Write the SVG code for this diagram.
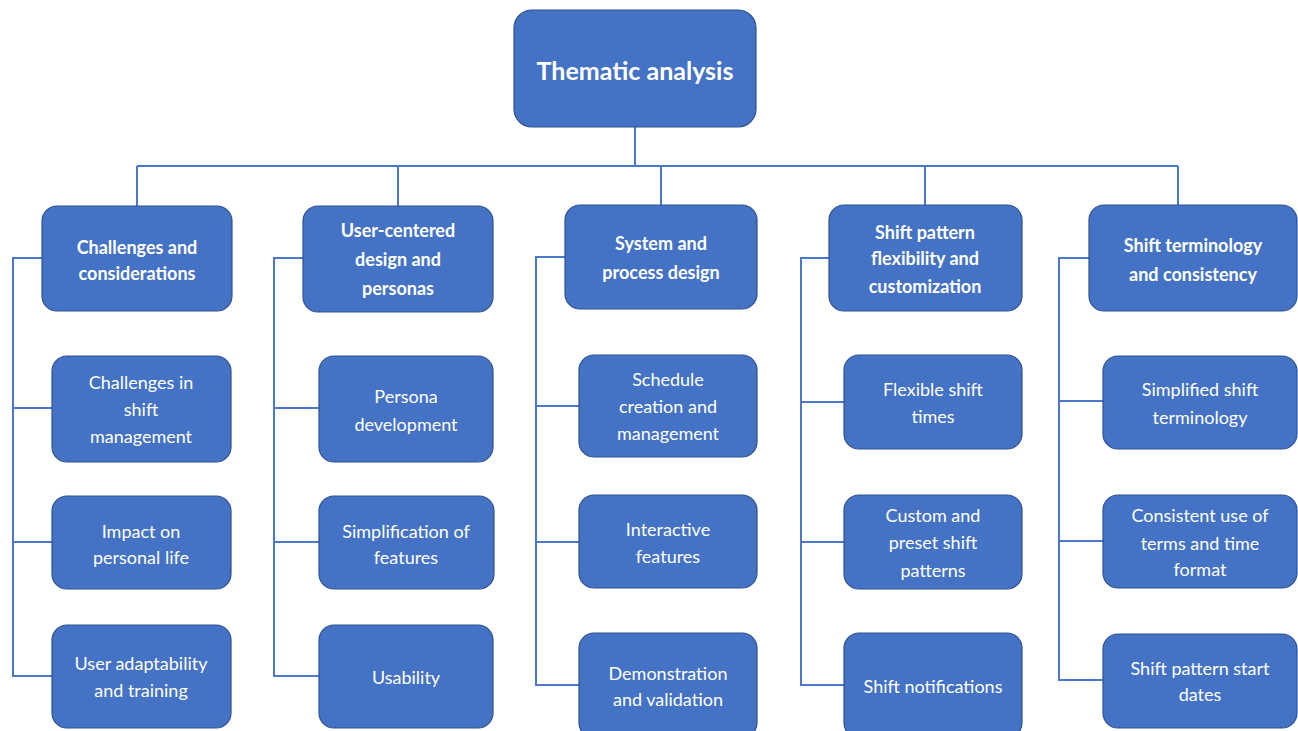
<svg xmlns="http://www.w3.org/2000/svg" width="1298" height="731" viewBox="0 0 1298 731">
<style>
.box{fill:#4472C4;stroke:#2F528F;stroke-width:1.2}
.t{fill:#FFFFFF;font-family:Lato,"Open Sans","Liberation Sans",sans-serif;font-size:18px;text-anchor:middle;dominant-baseline:central}
.b{font-weight:bold}
.r{font-size:25px}
.c{fill:none;stroke:#4A78CC;stroke-width:2}
</style>
<rect width="1298" height="731" fill="#FFFFFF"/>
<g id="connectors" class="c">
<path d="M635 127V166M137 166H1178M137 166V206M398 166V206M661 166V205M925 166V205M1178 166V205"/>
<path d="M42 258H13V676H52M13 408H52M13 542H52"/>
<path d="M303 258H274V676H319M274 408H319M274 542H319"/>
<path d="M565 257H536V685H579M536 406H579M536 542H579"/>
<path d="M829 258H801V685H844M801 402H844M801 542H844"/>
<path d="M1089 258H1059V680H1103M1059 401H1103M1059 541H1103"/>
</g>
<g id="root"><rect class="box" x="514" y="10" width="242" height="117" rx="18"/><text class="t b r" x="635" y="70">Thematic analysis</text></g>
<g id="n1"><rect class="box" x="42" y="206" width="190" height="105" rx="15"/><text class="t b" x="137"><tspan x="137" y="247">Challenges and</tspan><tspan x="137" y="273">considerations</tspan></text></g>
<g id="n2"><rect class="box" x="303" y="206" width="190" height="106" rx="15"/><text class="t b" x="398"><tspan x="398" y="230">User-centered</tspan><tspan x="398" y="259">design and</tspan><tspan x="398" y="288">personas</tspan></text></g>
<g id="n3"><rect class="box" x="565" y="205" width="192" height="104" rx="15"/><text class="t b" x="661"><tspan x="661" y="243">System and</tspan><tspan x="661" y="272">process design</tspan></text></g>
<g id="n4"><rect class="box" x="829" y="205" width="193" height="106" rx="15"/><text class="t b" x="925"><tspan x="925" y="232">Shift pattern</tspan><tspan x="925" y="258">flexibility and</tspan><tspan x="925" y="286">customization</tspan></text></g>
<g id="n5"><rect class="box" x="1089" y="205" width="208" height="106" rx="15"/><text class="t b" x="1193"><tspan x="1193" y="245">Shift terminology</tspan><tspan x="1193" y="274">and consistency</tspan></text></g>
<g id="n1a"><rect class="box" x="52" y="356" width="179" height="106" rx="15"/><text class="t" x="141"><tspan x="141" y="382">Challenges in</tspan><tspan x="141" y="409">shift</tspan><tspan x="141" y="436">management</tspan></text></g>
<g id="n1b"><rect class="box" x="52" y="496" width="179" height="93" rx="15"/><text class="t" x="141"><tspan x="141" y="531">Impact on</tspan><tspan x="141" y="557">personal life</tspan></text></g>
<g id="n1c"><rect class="box" x="52" y="625" width="179" height="103" rx="15"/><text class="t" x="141"><tspan x="141" y="663">User adaptability</tspan><tspan x="141" y="690">and training</tspan></text></g>
<g id="n2a"><rect class="box" x="319" y="356" width="174" height="106" rx="15"/><text class="t" x="406"><tspan x="406" y="396">Persona</tspan><tspan x="406" y="424">development</tspan></text></g>
<g id="n2b"><rect class="box" x="319" y="496" width="175" height="93" rx="15"/><text class="t" x="406"><tspan x="406" y="531">Simplification of</tspan><tspan x="406" y="557">features</tspan></text></g>
<g id="n2c"><rect class="box" x="319" y="625" width="174" height="103" rx="15"/><text class="t" x="406" y="677">Usability</text></g>
<g id="n3a"><rect class="box" x="579" y="355" width="178" height="102" rx="15"/><text class="t" x="668"><tspan x="668" y="379">Schedule</tspan><tspan x="668" y="406">creation and</tspan><tspan x="668" y="433">management</tspan></text></g>
<g id="n3b"><rect class="box" x="579" y="495" width="178" height="93" rx="15"/><text class="t" x="668"><tspan x="668" y="529">Interactive</tspan><tspan x="668" y="556">features</tspan></text></g>
<g id="n3c"><rect class="box" x="579" y="633" width="178" height="105" rx="15"/><text class="t" x="668"><tspan x="668" y="673">Demonstration</tspan><tspan x="668" y="699">and validation</tspan></text></g>
<g id="n4a"><rect class="box" x="844" y="355" width="178" height="94" rx="15"/><text class="t" x="933"><tspan x="933" y="389">Flexible shift</tspan><tspan x="933" y="416">times</tspan></text></g>
<g id="n4b"><rect class="box" x="844" y="495" width="178" height="94" rx="15"/><text class="t" x="933"><tspan x="933" y="515">Custom and</tspan><tspan x="933" y="542">preset shift</tspan><tspan x="933" y="570">patterns</tspan></text></g>
<g id="n4c"><rect class="box" x="844" y="633" width="178" height="105" rx="15"/><text class="t" x="933" y="686">Shift notifications</text></g>
<g id="n5a"><rect class="box" x="1103" y="356" width="194" height="93" rx="15"/><text class="t" x="1200"><tspan x="1200" y="389">Simplified shift</tspan><tspan x="1200" y="417">terminology</tspan></text></g>
<g id="n5b"><rect class="box" x="1103" y="495" width="194" height="93" rx="15"/><text class="t" x="1200"><tspan x="1200" y="515">Consistent use of</tspan><tspan x="1200" y="543">terms and time</tspan><tspan x="1200" y="569">format</tspan></text></g>
<g id="n5c"><rect class="box" x="1103" y="634" width="194" height="94" rx="15"/><text class="t" x="1200"><tspan x="1200" y="668">Shift pattern start</tspan><tspan x="1200" y="694">dates</tspan></text></g>
</svg>
